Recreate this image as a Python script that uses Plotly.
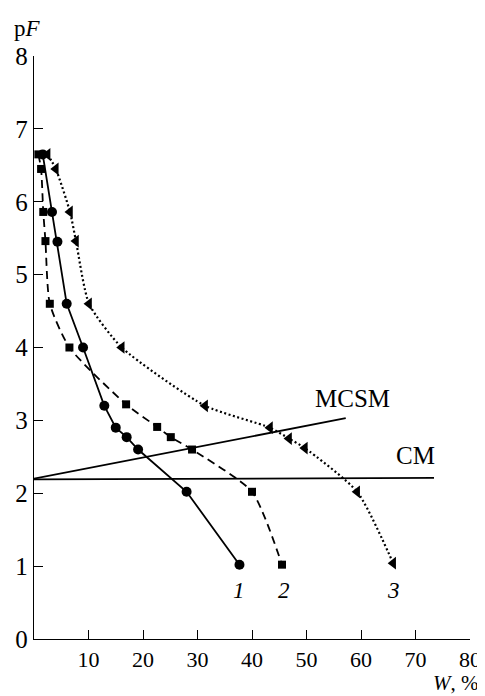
import plotly.graph_objects as go

# Series 1 (circles, solid)
w1 = [1.6, 3.3, 4.3, 6.0, 9.0, 12.9, 15.0, 17.0, 19.1, 28.0, 37.7]
pf1 = [6.65, 5.86, 5.45, 4.6, 4.0, 3.2, 2.9, 2.77, 2.6, 2.02, 1.02]
# Series 2 (squares, dashed)
w2 = [0.8, 1.3, 1.7, 2.1, 2.9, 6.5, 16.9, 22.6, 25.1, 29.0, 40.0, 45.5]
pf2 = [6.65, 6.45, 5.86, 5.46, 4.6, 4.0, 3.22, 2.91, 2.77, 2.6, 2.02, 1.02]
# Series 3 (triangles, dotted)
w3 = [2.5, 4.0, 6.6, 7.7, 10.1, 16.1, 31.4, 43.3, 46.8, 49.7, 59.3, 65.9]
pf3 = [6.65, 6.45, 5.86, 5.46, 4.6, 4.0, 3.2, 2.9, 2.75, 2.62, 2.02, 1.04]
# Reference lines
mcsm_w = [0, 57.2]
mcsm_pf = [2.2, 3.03]
cm_w = [0, 73.4]
cm_pf = [2.19, 2.21]

x_ticks = [10, 20, 30, 40, 50, 60, 70, 80]
y_ticks = [0, 1, 2, 3, 4, 5, 6, 7, 8]

fig = go.Figure()
fig.add_trace(go.Scatter(x=mcsm_w, y=mcsm_pf, mode="lines",
                         line=dict(color="black", width=1.8), cliponaxis=False))
fig.add_trace(go.Scatter(x=cm_w, y=cm_pf, mode="lines",
                         line=dict(color="black", width=1.8), cliponaxis=False))
fig.add_trace(go.Scatter(x=w1, y=pf1, mode="lines+markers",
                         line=dict(color="black", width=1.8),
                         marker=dict(symbol="circle", size=10, color="black"),
                         cliponaxis=False))
fig.add_trace(go.Scatter(x=w2, y=pf2, mode="lines+markers",
                         line=dict(color="black", width=1.8, dash="8px,5px", shape="spline", smoothing=0.6),
                         marker=dict(symbol="square", size=8, color="black"),
                         cliponaxis=False))
fig.add_trace(go.Scatter(x=w3, y=pf3, mode="lines+markers",
                         line=dict(color="black", width=2.2, dash="2px,2.5px", shape="spline", smoothing=0.6),
                         marker=dict(symbol="triangle-left", size=11, color="black"),
                         cliponaxis=False))

serif = "Liberation Serif, Times New Roman, serif"
ann = [
    (58.5, 3.3, "MCSM", 25),
    (70.0, 2.52, "CM", 25),
    (37.6, 0.67, "<i>1</i>", 23),
    (45.9, 0.67, "<i>2</i>", 23),
    (65.9, 0.67, "<i>3</i>", 23),
]
annotations = []
for x, y, t, s in ann:
    annotations.append(dict(x=x, y=y, xref="x", yref="y", text=t,
                            showarrow=False, font=dict(family=serif, color="black", size=s),
                            xanchor="center", yanchor="middle"))

# page has an 8px body margin: figure drawn at (8, 8)
OFF = 8
W, H = 485 - OFF, 696 - OFF
L, T = 34 - OFF, 56 - OFF
R = W - (470 - OFF)
B = H - (639 - OFF)
pw, ph = W - L - R, H - T - B
def px2paper(px, py):
    return (px - OFF - L) / pw, (H - B - (py - OFF)) / ph

ax, ay = px2paper(27, 28)
annotations.append(dict(x=ax, y=ay, xref="paper", yref="paper", text="p<i>F</i>",
                        showarrow=False, font=dict(family=serif, color="black", size=23),
                        xanchor="center", yanchor="middle"))
ax, ay = px2paper(456, 683)
annotations.append(dict(x=ax, y=ay, xref="paper", yref="paper", text="<i>W</i>, %",
                        showarrow=False, font=dict(family=serif, color="black", size=21),
                        xanchor="center", yanchor="middle"))

fig.update_layout(
    width=W, height=H,
    margin=dict(l=L, r=R, t=T, b=B, autoexpand=False),
    paper_bgcolor="white", plot_bgcolor="white",
    showlegend=False,
    font=dict(family=serif, color="black"),
    annotations=annotations,
    xaxis=dict(range=[0, 80], tickvals=x_ticks, ticktext=[str(v) for v in x_ticks],
               showline=True, linecolor="black", linewidth=1.3, ticks="inside",
               ticklen=9, tickwidth=1.3, tickcolor="black", showgrid=False, zeroline=False,
               automargin=False,
               tickfont=dict(family=serif, size=22, color="black"), fixedrange=True),
    yaxis=dict(range=[0, 8], tickvals=y_ticks, ticktext=[str(v) for v in y_ticks],
               showline=True, linecolor="black", linewidth=1.3, ticks="inside",
               ticklen=9, tickwidth=1.3, tickcolor="black", showgrid=False, zeroline=False,
               automargin=False,
               tickfont=dict(family=serif, size=25, color="black"), fixedrange=True),
)
fig.write_html("out.html")
